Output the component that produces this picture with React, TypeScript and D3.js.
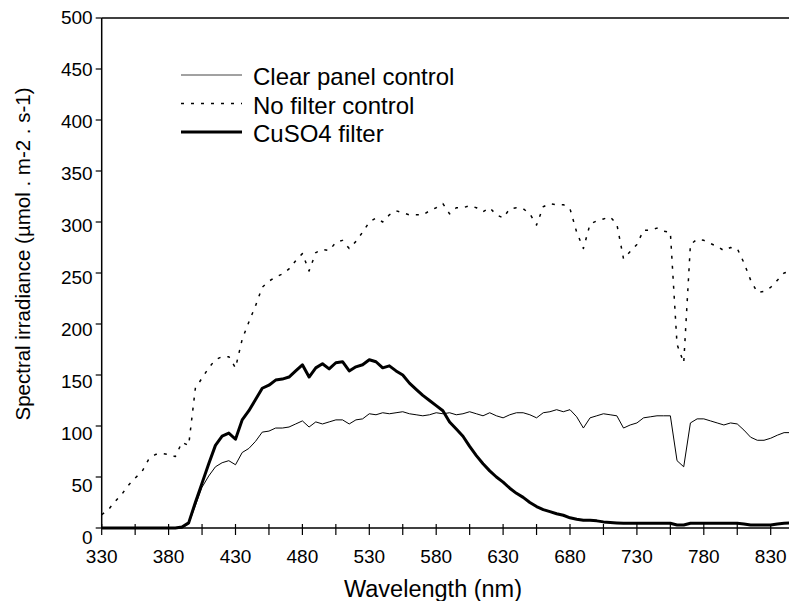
import * as d3 from "d3";
import React from "react";

const width = 789;
const height = 601;
const margin = { top: 18, left: 101.7, bottom: 73 };

// wavelength categories (nm), one reading every 5 nm
const wavelengths = [
  330, 335, 340, 345, 350, 355, 360, 365, 370, 375,
  380, 385, 390, 395, 400, 405, 410, 415, 420, 425,
  430, 435, 440, 445, 450, 455, 460, 465, 470, 475,
  480, 485, 490, 495, 500, 505, 510, 515, 520, 525,
  530, 535, 540, 545, 550, 555, 560, 565, 570, 575,
  580, 585, 590, 595, 600, 605, 610, 615, 620, 625,
  630, 635, 640, 645, 650, 655, 660, 665, 670, 675,
  680, 685, 690, 695, 700, 705, 710, 715, 720, 725,
  730, 735, 740, 745, 750, 755, 760, 765, 770, 775,
  780, 785, 790, 795, 800, 805, 810, 815, 820, 825,
  830, 835, 840, 845,
];

const clearPanel = [
  0, 0, 0, 0, 0, 0, 0, 0, 0, 0,
  0, 0, 0, 4, 22, 40, 51, 60, 64, 66,
  62, 74, 78, 85, 94, 95, 98, 98, 99, 102,
  105, 99, 104, 102, 104, 106, 106, 102, 106, 107,
  112, 111, 113, 112, 113, 114, 112, 111, 110, 111,
  113, 112, 113, 111, 112, 114, 112, 110, 113, 110,
  108, 111, 113, 113, 111, 108, 113, 114, 116, 114,
  116, 109, 98, 108, 110, 112, 111, 110, 98, 101,
  103, 108, 109, 110, 110, 110, 66, 60, 103, 107,
  107, 105, 103, 101, 103, 102, 96, 89, 86, 86,
  88, 91, 93.5, 93.5,
];

const noFilter = [
  13, 18, 26, 33, 42, 49, 55, 67, 72, 73,
  72, 70, 84, 81, 137, 147, 157, 165, 168, 168,
  157, 185, 202, 218, 236, 242, 246, 249, 254, 262,
  269, 252, 270, 273, 272, 280, 282, 274, 281, 290,
  300, 304, 300, 307, 311, 309, 307, 307, 307, 311,
  314, 318, 308, 314, 314, 316, 314, 310, 314, 307,
  304, 313, 314, 313, 308, 297, 315, 318, 317, 317,
  313, 290, 274, 298, 301, 303, 305, 298, 264, 271,
  278, 292, 292, 294, 291, 290, 180, 162, 278, 283,
  282, 279, 276, 272, 275, 274, 260, 243, 231, 232,
  236, 243, 250, 252,
];

const cuso4 = [
  0, 0, 0, 0, 0, 0, 0, 0, 0, 0,
  0, 0, 1, 5, 25, 44, 63, 81, 90, 93,
  87, 106, 115, 126, 137, 140, 145, 146, 148, 154,
  160, 148, 157, 161, 156, 162, 163, 154, 158, 160,
  165, 163, 157, 159, 154, 150, 142, 136, 130, 125,
  120, 115, 104, 97, 90, 80, 71, 63, 56, 50,
  45, 39, 34, 30, 25, 21, 18, 16, 14, 12.5,
  10, 8.5, 7.5, 7.5, 7, 6, 5.5, 5, 4.6, 4.6,
  4.6, 4.6, 4.6, 4.6, 4.6, 4.6, 3, 3, 4.6, 4.6,
  4.6, 4.6, 4.6, 4.6, 4.6, 4.6, 4, 3, 3, 3,
  3, 4, 4.6, 5,
];

const xTicks = [330, 355, 380, 405, 430, 455, 480, 505, 530, 555, 580, 605, 630, 655, 680, 705, 730, 755, 780, 805, 830];
const xLabels = [330, 380, 430, 480, 530, 580, 630, 680, 730, 780, 830];
const yTicks = [0, 50, 100, 150, 200, 250, 300, 350, 400, 450, 500];

const series = [
  { name: "Clear panel control", values: clearPanel, width: 1, dash: null },
  { name: "No filter control", values: noFilter, width: 1.5, dash: "3 7" },
  { name: "CuSO4 filter", values: cuso4, width: 3, dash: null },
];

const font = "'Liberation Sans', Arial, sans-serif";

export default function App() {
  const x = d3
    .scaleLinear()
    .domain([330, 850])
    .range([margin.left, margin.left + 520 * 1.338]);
  const y = d3
    .scaleLinear()
    .domain([0, 500])
    .range([height - margin.bottom, margin.top]);

  const line = (vals: number[]) =>
    d3
      .line<number>()
      .x((d, i) => x(wavelengths[i]))
      .y((d) => y(d))(vals);

  const x0 = x(330);
  const y0 = y(0);

  return (
    <svg
      width={width}
      height={height}
      style={{ position: "absolute", left: 0, top: 0, background: "#fff" }}
      fontFamily={font}
    >
      <rect width={width} height={height} fill="#fff" />

      {/* data */}
      {series.map((s) => (
        <path
          key={s.name}
          d={line(s.values) || ""}
          fill="none"
          stroke="#000"
          strokeWidth={s.width}
          strokeDasharray={s.dash || undefined}
          strokeLinejoin="round"
        />
      ))}

      {/* frame top + axes */}
      <line x1={x0} x2={width + 10} y1={y(500)} y2={y(500)} stroke="#000" strokeWidth={1.5} />
      <line x1={x0} x2={x0} y1={y(500)} y2={y0} stroke="#000" strokeWidth={1.5} />
      <line x1={x0} x2={width + 10} y1={y0} y2={y0} stroke="#000" strokeWidth={1.5} />

      {/* y axis */}
      {yTicks.map((v) => (
        <g key={v}>
          <line x1={x0 - 6} x2={x0} y1={y(v)} y2={y(v)} stroke="#000" strokeWidth={1.2} />
          <text
            x={x0 - 9}
            y={y(v) + 6 + (500 - v) * 0.02}
            textAnchor="end"
            fontSize={19}
            fill="#000"
          >
            {v}
          </text>
        </g>
      ))}

      {/* x axis */}
      {xTicks.map((v) => (
        <line key={v} x1={x(v)} x2={x(v)} y1={y0 - 4} y2={y0 + 7} stroke="#000" strokeWidth={1.2} />
      ))}
      {xLabels.map((v) => (
        <text key={v} x={x(v)} y={y0 + 35} textAnchor="middle" fontSize={19} fill="#000">
          {v}
        </text>
      ))}

      {/* axis titles */}
      <text x={433} y={597} textAnchor="middle" fontSize={23.5} fill="#000">
        Wavelength (nm)
      </text>
      <text
        transform="translate(30, 254) rotate(-90)"
        textAnchor="middle"
        fontSize={20.5}
        fill="#000"
      >
        Spectral irradiance (µmol . m-2 . s-1)
      </text>

      {/* legend */}
      {series.map((s, i) => {
        const ly = 75 + i * 28.5;
        return (
          <g key={s.name}>
            <line
              x1={181}
              x2={242}
              y1={ly}
              y2={ly}
              stroke={i === 0 ? "#444" : "#000"}
              strokeWidth={s.width}
              strokeDasharray={s.dash || undefined}
            />
            <text x={253} y={ly + 10} fontSize={24} fill="#000">
              {s.name}
            </text>
          </g>
        );
      })}
    </svg>
  );
}
